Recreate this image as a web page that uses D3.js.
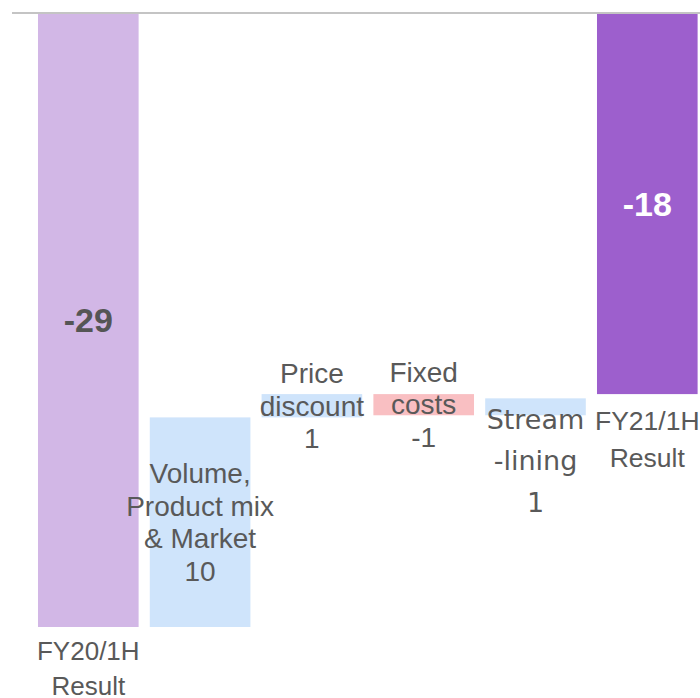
<!DOCTYPE html>
<html>
<head>
<meta charset="utf-8">
<script src="https://cdn.jsdelivr.net/npm/d3@7"></script>
<style>
  html, body { margin: 0; padding: 0; background: #fff; }
  svg { display: block; }
</style>
</head>
<body>
<svg id="chart" width="700" height="698"></svg>
<script>
// ---- data ----
const categories = ["FY20/1H Result", "Volume, Product mix & Market", "Price discount", "Fixed costs", "Stream-lining", "FY21/1H Result"];
const labelLines = [["FY20/1H", "Result"], ["Volume,", "Product mix", "& Market"], ["Price", "discount"], ["Fixed", "costs"], ["Stream", "-lining"], ["FY21/1H", "Result"]];
const values = [-29.0, 9.9, 1.1, -1.0, 0.8, -18.0];
const kinds = ["total", "delta", "delta", "delta", "delta", "total"];

// ---- style ----
const colors = { total0: "#d2b7e6", total1: "#9d5fcd", up: "#cfe4fb", down: "#f9bfc2" };
const textColor = "#595959";
const fontFamily = "'Liberation Sans', Arial, sans-serif";

const svg = d3.select("#chart");
const x = d3.scaleBand().domain(categories).range([32.4, 703.2]).paddingInner(0.1).paddingOuter(0.05);
const y = d3.scaleLinear().domain([0, -29]).range([13, 627]);

// compute waterfall spans
let running = 0;
const bars = categories.map((c, i) => {
  let y0, y1;
  if (kinds[i] === "total") { y0 = 0; y1 = values[i]; running = values[i]; }
  else { y0 = running; y1 = running + values[i]; running = y1; }
  return { cat: c, i, v: values[i], y0, y1, kind: kinds[i] };
});

function fill(d) {
  if (d.kind === "total") return d.i === 0 ? colors.total0 : colors.total1;
  return d.v >= 0 ? colors.up : colors.down;
}

svg.selectAll("rect.bar").data(bars).join("rect")
  .attr("class", "bar")
  .attr("x", d => x(d.cat))
  .attr("width", x.bandwidth())
  .attr("y", d => Math.min(y(d.y0), y(d.y1)))
  .attr("height", d => Math.abs(y(d.y1) - y(d.y0)))
  .attr("fill", fill);

// zero line
svg.append("line")
  .attr("x1", 12).attr("x2", 700)
  .attr("y1", y(0)).attr("y2", y(0))
  .attr("stroke", "#c4c4c4").attr("stroke-width", 2);

const fmt = v => String(Math.round(v));

// total value labels inside bars
bars.filter(d => d.kind === "total").forEach(d => {
  svg.append("text")
    .attr("x", x(d.cat) + x.bandwidth() / 2)
    .attr("y", (y(d.y0) + y(d.y1)) / 2)
    .attr("dy", "0.36em")
    .attr("text-anchor", "middle")
    .attr("font-family", fontFamily)
    .attr("font-weight", "bold")
    .attr("font-size", 34)
    .attr("fill", d.i === 0 ? "#555555" : "#ffffff")
    .text(fmt(d.v));
});

// category labels
const labelStyle = [
  { mode: "below", off: 24, lh: 35, size: 26, font: fontFamily },
  { mode: "center", off: 0, lh: 32.5, size: 28, font: fontFamily },
  { mode: "center", off: 0, lh: 32.5, size: 28, font: fontFamily },
  { mode: "center", off: 0, lh: 32.5, size: 28, font: fontFamily },
  { mode: "center", off: 54, lh: 41.5, size: 27, font: "'DejaVu Sans', Verdana, sans-serif" },
  { mode: "below", off: 27, lh: 37, size: 26.5, font: fontFamily }
];

bars.forEach(d => {
  const st = labelStyle[d.i];
  const lines = labelLines[d.i].slice();
  if (d.kind === "delta") lines.push(fmt(d.v));
  const cx = x(d.cat) + x.bandwidth() / 2;
  const top = Math.min(y(d.y0), y(d.y1)), bot = Math.max(y(d.y0), y(d.y1));
  let firstY;
  if (st.mode === "below") firstY = bot + st.off;
  else firstY = (top + bot) / 2 + st.off - (lines.length - 1) / 2 * st.lh;
  const t = svg.append("text")
    .attr("text-anchor", "middle")
    .attr("font-family", st.font)
    .attr("font-size", st.size)
    .attr("fill", textColor);
  lines.forEach((ln, k) => {
    t.append("tspan").attr("x", cx).attr("y", firstY + k * st.lh).attr("dy", "0.35em").text(ln);
  });
});
</script>
</body>
</html>
